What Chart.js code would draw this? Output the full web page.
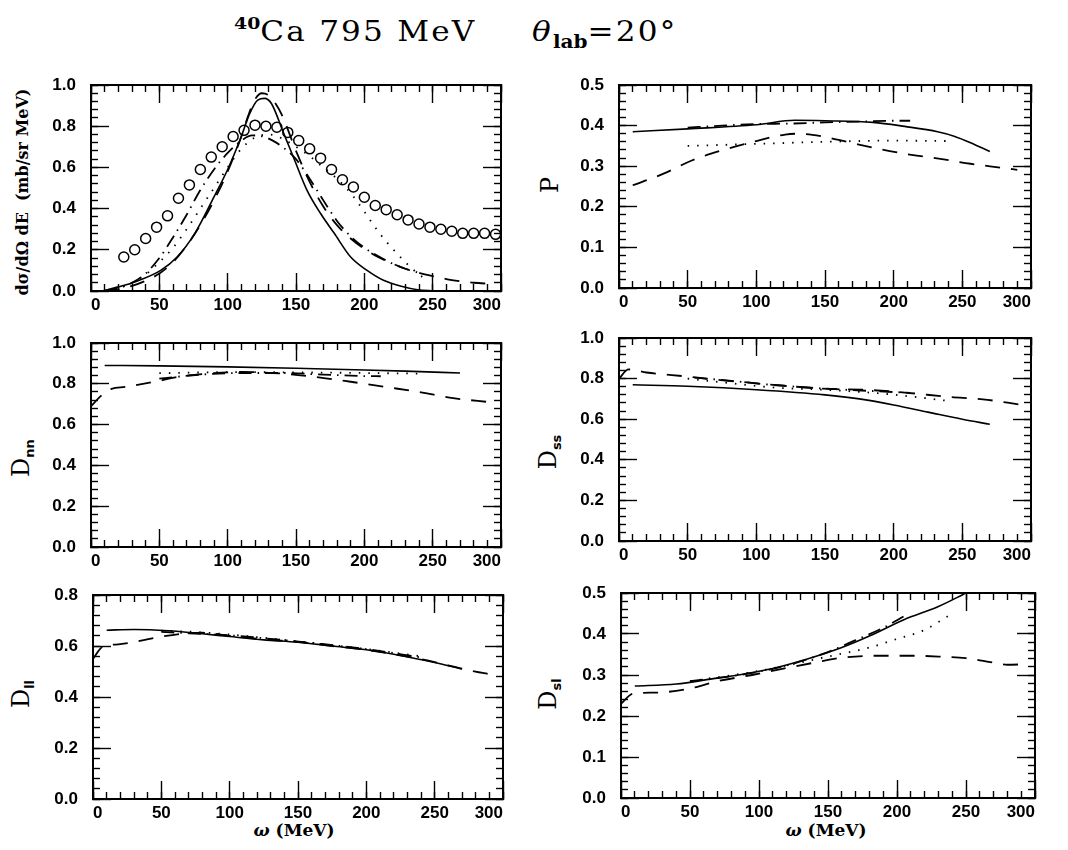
<!DOCTYPE html>
<html>
<head>
<meta charset="utf-8">
<script src="https://cdn.jsdelivr.net/npm/chart.js@4"></script>
<style>
  body { margin: 0; background: #fff; }
  #page { position: relative; width: 1068px; height: 850px; overflow: hidden; }
  .panel { position: absolute; }
  .lbl { position: absolute; white-space: nowrap; color: #000; }
  .rot { transform: translate(-50%, -50%) rotate(-90deg); }
  .ser { font-family: "DejaVu Serif", serif; }
  #title { position: absolute; left: 234px; top: 13px; font-family: "DejaVu Serif", serif; font-size: 28px;
           letter-spacing: 2px; white-space: nowrap; transform: scaleX(1.11); transform-origin: left top; }
  #title sup { font-size: 17px; font-weight: bold; vertical-align: 12px; letter-spacing: 0; }
  #title sub { font-size: 18px; font-weight: bold; vertical-align: -7px; letter-spacing: 0; }
  .ylab { font-family: "DejaVu Serif", serif; font-size: 24px; }
  .ylab sub { font-size: 13px; font-weight: bold; font-family: "DejaVu Sans", sans-serif; }
</style>
</head>
<body>
<div id="page">
  <div id="title"><sup>40</sup>Ca 795 MeV<span style="margin-left:50px"><i>θ</i></span><sub>lab</sub>=20°</div>

  <div class="lbl rot ser" style="left:22px; top:192px; font-size:16px; font-weight:bold;">dσ/dΩ dE &nbsp;(mb/sr MeV)</div>
  <div class="lbl rot ylab" style="left:550px; top:185px;">P</div>
  <div class="lbl rot ylab" style="left:22px; top:458px;">D<sub>nn</sub></div>
  <div class="lbl rot ylab" style="left:549px; top:452px;">D<sub>ss</sub></div>
  <div class="lbl rot ylab" style="left:22px; top:694px;">D<sub>ll</sub></div>
  <div class="lbl rot ylab" style="left:549px; top:694px;">D<sub>sl</sub></div>
  <div class="lbl ser" style="left:294px; top:830px; transform:translate(-50%,-50%); font-size:17px; font-weight:bold;"><i>ω</i> (MeV)</div>
  <div class="lbl ser" style="left:826px; top:830px; transform:translate(-50%,-50%); font-size:17px; font-weight:bold;"><i>ω</i> (MeV)</div>
</div>

<script>
// x axis
const xTicks = [0, 50, 100, 150, 200, 250, 300];

// d sigma / dOmega dE: data points
const sigOmega = [24, 32, 40, 48, 56, 64, 72, 80, 88, 96, 104, 112, 120, 128, 136, 144, 152, 160,
  168, 176, 184, 192, 200, 208, 216, 224, 232, 240, 248, 256, 264, 272, 280, 288, 296];
const sigData = [0.165, 0.20, 0.255, 0.31, 0.365, 0.45, 0.515, 0.59, 0.65, 0.70, 0.75, 0.78, 0.805,
  0.80, 0.795, 0.77, 0.73, 0.69, 0.645, 0.59, 0.54, 0.505, 0.455, 0.415, 0.395, 0.37, 0.345, 0.325,
  0.31, 0.30, 0.29, 0.28, 0.28, 0.28, 0.275];

// d sigma curves [omega, value]
const sigSolid = [[8,0],[20,0.02],[32,0.044],[51,0.10],[63,0.165],[76,0.28],[90,0.457],[100,0.59],
  [110,0.75],[116,0.86],[122,0.927],[127,0.935],[132,0.91],[141,0.765],[149,0.635],[158,0.49],
  [168,0.376],[178,0.28],[190,0.165],[202,0.10],[214,0.052],[227,0.023],[239,0.006],[251,0]];
const sigDash = [[10,0],[20,0.008],[30,0.025],[40,0.05],[50,0.085],[60,0.14],[70,0.22],[80,0.32],
  [90,0.44],[100,0.58],[110,0.75],[115,0.85],[120,0.93],[125,0.96],[130,0.95],[135,0.91],[140,0.85],
  [150,0.68],[160,0.53],[170,0.41],[180,0.32],[190,0.255],[200,0.205],[210,0.165],[220,0.135],
  [230,0.108],[240,0.088],[250,0.072],[260,0.058],[270,0.048],[280,0.04],[292,0.035]];
const sigDot = [[10,0],[20,0.012],[30,0.04],[40,0.08],[50,0.14],[60,0.21],[70,0.30],[80,0.40],
  [90,0.50],[100,0.60],[110,0.69],[120,0.745],[130,0.76],[140,0.74],[150,0.70],[160,0.655],
  [170,0.60],[180,0.545],[190,0.475],[200,0.385],[210,0.29],[220,0.21],[230,0.14],[240,0.08],[246,0.055]];
const sigDashDot = [[10,0],[20,0.015],[30,0.04],[40,0.085],[50,0.16],[60,0.26],[70,0.37],[80,0.49],
  [90,0.59],[100,0.67],[110,0.73],[118,0.755],[126,0.75],[133,0.73],[140,0.70],[150,0.64],
  [160,0.545],[170,0.44],[180,0.34],[190,0.265],[200,0.21],[210,0.17],[220,0.135],[230,0.108],[240,0.088]];

// P
const pSolid = [[10,0.385],[50,0.392],[100,0.402],[128,0.413],[150,0.412],[185,0.408],[208,0.398],
  [232,0.385],[244,0.374],[256,0.358],[270,0.336]];
const pDash = [[10,0.253],[32,0.281],[53,0.314],[74,0.338],[100,0.362],[121,0.378],[130,0.38],
  [147,0.374],[166,0.36],[190,0.342],[213,0.328],[234,0.318],[256,0.306],[279,0.296],[290,0.291]];
const pDot = [[50,0.35],[100,0.355],[150,0.36],[200,0.363],[240,0.362]];
const pDashDot = [[50,0.395],[75,0.40],[100,0.404],[125,0.405],[150,0.408],[175,0.41],[200,0.412],[212,0.412]];

// Dnn
const dnnSolid = [[10,0.89],[50,0.888],[100,0.883],[150,0.876],[200,0.868],[230,0.862],[270,0.853]];
const dnnDash = [[0,0.69],[8,0.745],[15,0.775],[25,0.785],[45,0.808],[65,0.835],[90,0.852],[110,0.858],
  [140,0.85],[165,0.833],[190,0.81],[215,0.785],[240,0.76],[265,0.73],[292,0.71]];
const dnnDot = [[50,0.852],[100,0.857],[150,0.856],[200,0.853],[240,0.85]];
const dnnDashDot = [[50,0.825],[80,0.845],[110,0.853],[140,0.853],[170,0.845],[200,0.838],[212,0.837]];

// Dss
const dssSolid = [[10,0.77],[50,0.762],[100,0.745],[150,0.72],[175,0.70],[200,0.67],[225,0.635],
  [250,0.60],[270,0.575]];
const dssDash = [[0,0.80],[7,0.845],[20,0.83],[50,0.81],[70,0.795],[95,0.78],[120,0.765],[145,0.752],
  [185,0.743],[210,0.73],[240,0.71],[265,0.698],[292,0.672]];
const dssDot = [[50,0.80],[80,0.778],[115,0.755],[150,0.745],[190,0.727],[215,0.71],[240,0.69]];
const dssDashDot = [[55,0.805],[80,0.79],[110,0.77],[140,0.755],[165,0.745],[190,0.737],[212,0.73]];

// Dll
const dllSolid = [[10,0.662],[30,0.665],[55,0.66],[80,0.648],[100,0.637],[125,0.624],[150,0.615],
  [175,0.60],[200,0.585],[225,0.563],[250,0.535],[270,0.51]];
const dllDash = [[0,0.55],[7,0.597],[20,0.607],[45,0.632],[65,0.648],[80,0.652],[100,0.64],[125,0.626],
  [150,0.616],[175,0.60],[200,0.585],[225,0.563],[250,0.537],[275,0.505],[295,0.485]];
const dllDot = [[50,0.66],[75,0.655],[100,0.645],[150,0.618],[200,0.588],[240,0.56]];
const dllDashDot = [[50,0.655],[70,0.65],[100,0.642],[130,0.628],[160,0.612],[200,0.588],[240,0.555]];

// Dsl
const dslSolid = [[10,0.273],[40,0.278],[65,0.29],[90,0.303],[110,0.316],[135,0.339],[160,0.367],
  [180,0.395],[205,0.435],[230,0.467],[250,0.5]];
const dslDash = [[0,0.23],[9,0.255],[25,0.257],[50,0.267],[70,0.285],[95,0.30],[115,0.314],[140,0.33],
  [160,0.342],[185,0.347],[210,0.347],[230,0.345],[250,0.341],[270,0.33],[280,0.325],[292,0.326]];
const dslDot = [[50,0.285],[100,0.31],[150,0.345],[180,0.367],[200,0.388],[220,0.41],[240,0.45]];
const dslDashDot = [[50,0.285],[80,0.297],[110,0.315],[130,0.333],[150,0.356],[170,0.385],[190,0.415],[205,0.443]];

const tickFont = { family: '"Liberation Sans", Arial, sans-serif', size: 17, weight: 'bold' };

// tick positions from 0 to max in equal steps
function steps(max, step) {
  const out = [];
  const n = Math.round(max / step);
  for (let i = 0; i <= n; i++) out.push(+(i * step).toFixed(4));
  return out;
}

// inward tick marks drawn by chart.js itself (negative tick length)
function tickGrid(len) {
  return { display: true, drawOnChartArea: false, drawTicks: true, tickLength: -len,
           tickColor: '#000', tickWidth: 1.4, color: '#000' };
}

// zero-size axis that only carries tick marks (and maybe a frame side)
function edgeAxis(axis, position, max, values, len, weight, border) {
  return {
    axis: axis, type: 'linear', position: position, min: 0, max: max, weight: weight,
    afterBuildTicks: s => { s.ticks = values.map(v => ({ value: v })); },
    afterFit: s => {
      if (axis === 'x') { s.height = 0; s.paddingLeft = 0; s.paddingRight = 0; }
      else { s.width = 0; s.paddingTop = 0; s.paddingBottom = 0; }
    },
    grid: tickGrid(len),
    border: { display: border, color: '#000', width: 2 },
    ticks: { display: false }
  };
}

function curve(pts, dash, width) {
  return {
    data: pts.map(p => ({ x: p[0], y: p[1] })),
    xAxisID: 'x', yAxisID: 'y',
    borderColor: '#000',
    borderWidth: width,
    borderDash: dash,
    pointRadius: 0,
    fill: false,
    cubicInterpolationMode: 'monotone'
  };
}

function curveSet(solid, dash, dot, dashDot) {
  return [
    curve(solid, [], 1.6),
    curve(dash, [15, 11], 1.8),
    curve(dot, [1.5, 8], 1.8),
    curve(dashDot, [13, 6, 1.5, 6], 1.8)
  ];
}

function makePanel(box, yMax, yMajor, datasets) {
  const padTop = 12, yW = 62, xH = 30, padRight = 14;
  const w = box.r - box.l, h = box.b - box.t;
  const div = document.createElement('div');
  div.className = 'panel';
  div.style.left = (box.l - yW) + 'px';
  div.style.top = (box.t - padTop) + 'px';
  const canvas = document.createElement('canvas');
  canvas.width = w + yW + padRight;
  canvas.height = h + padTop + xH;
  div.appendChild(canvas);
  document.getElementById('page').appendChild(div);

  const xMinor = steps(300, 10);
  const yMajors = steps(yMax, yMajor);
  const yMinor = steps(yMax, yMajor / 5);

  new Chart(canvas.getContext('2d'), {
    type: 'line',
    data: { datasets: datasets },
    options: {
      responsive: false,
      animation: false,
      devicePixelRatio: 1,
      layout: { padding: { top: padTop, right: padRight, left: 0, bottom: 0 } },
      plugins: { legend: { display: false }, tooltip: { enabled: false } },
      scales: {
        x: {
          axis: 'x', type: 'linear', position: 'bottom', min: 0, max: 300, weight: 1,
          afterFit: s => { s.height = xH; s.paddingLeft = 0; s.paddingRight = 0; },
          afterBuildTicks: s => { s.ticks = xTicks.map(v => ({ value: v })); },
          grid: tickGrid(18),
          border: { display: true, color: '#000', width: 2 },
          ticks: { color: '#000', font: tickFont, padding: 22, align: 'inner', maxRotation: 0 }
        },
        xm: edgeAxis('x', 'bottom', 300, xMinor, 7, 0, false),
        xt: edgeAxis('x', 'top', 300, xTicks, 18, 0, true),
        xtm: edgeAxis('x', 'top', 300, xMinor, 7, 1, false),
        y: {
          axis: 'y', type: 'linear', position: 'left', min: 0, max: yMax, weight: 1,
          afterFit: s => { s.width = yW; s.paddingTop = 0; s.paddingBottom = 0; },
          afterBuildTicks: s => { s.ticks = yMajors.map(v => ({ value: v })); },
          grid: tickGrid(18),
          border: { display: true, color: '#000', width: 2 },
          ticks: { color: '#000', font: tickFont, padding: 33, callback: v => v.toFixed(1) }
        },
        ym: edgeAxis('y', 'left', yMax, yMinor, 7, 0, false),
        yr: edgeAxis('y', 'right', yMax, yMajors, 18, 0, true),
        yrm: edgeAxis('y', 'right', yMax, yMinor, 7, 1, false)
      }
    }
  });
}

const circles = {
  data: sigOmega.map((w, i) => ({ x: w, y: sigData[i] })),
  xAxisID: 'x', yAxisID: 'y',
  showLine: false,
  pointStyle: 'circle',
  pointRadius: 5,
  pointBorderWidth: 1.5,
  pointBorderColor: '#000',
  pointBackgroundColor: 'rgba(0,0,0,0)',
  borderColor: '#000'
};

makePanel({ l: 91, r: 501, t: 85, b: 291 }, 1.0, 0.2,
  curveSet(sigSolid, sigDash, sigDot, sigDashDot).concat([circles]));
makePanel({ l: 619, r: 1031, t: 85, b: 288 }, 0.5, 0.1, curveSet(pSolid, pDash, pDot, pDashDot));
makePanel({ l: 91, r: 501, t: 343, b: 547 }, 1.0, 0.2, curveSet(dnnSolid, dnnDash, dnnDot, dnnDashDot));
makePanel({ l: 619, r: 1031, t: 338, b: 541 }, 1.0, 0.2, curveSet(dssSolid, dssDash, dssDot, dssDashDot));
makePanel({ l: 93, r: 503, t: 595, b: 799 }, 0.8, 0.2, curveSet(dllSolid, dllDash, dllDot, dllDashDot));
makePanel({ l: 621, r: 1035, t: 593, b: 798 }, 0.5, 0.1, curveSet(dslSolid, dslDash, dslDot, dslDashDot));
</script>
</body>
</html>
